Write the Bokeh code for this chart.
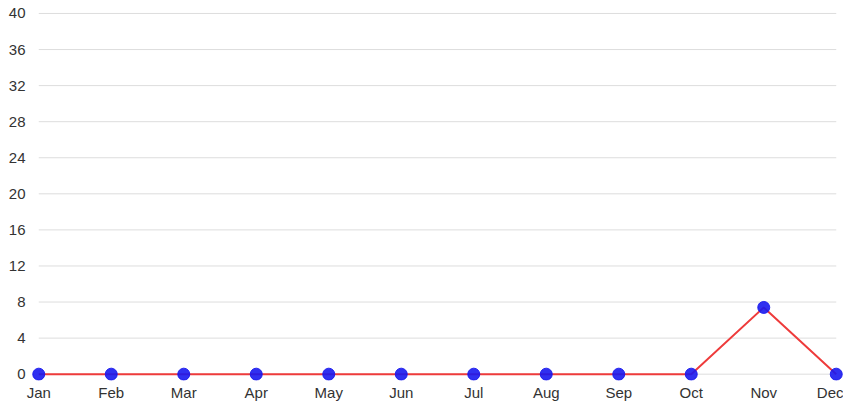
from bokeh.plotting import figure
from bokeh.models import Range1d, FixedTicker
from bokeh.embed import file_html
from bokeh.resources import INLINE

months = ["Jan", "Feb", "Mar", "Apr", "May", "Jun", "Jul", "Aug", "Sep", "Oct", "Nov", "Dec"]
values = [0, 0, 0, 0, 0, 0, 0, 0, 0, 0, 7.4, 0]
y_ticks = [0, 4, 8, 12, 16, 20, 24, 28, 32, 36, 40]

xs = list(range(len(months)))

p = figure(output_backend="svg", toolbar_location=None,
           frame_width=812, frame_height=372,
           x_range=Range1d(-0.1, 11.1), y_range=Range1d(-0.7, 40.55),
           min_border_left=31, min_border_right=0, min_border_top=8, min_border_bottom=0)
p.outline_line_color = None
p.xgrid.visible = False
p.ygrid.visible = False
p.background_fill_color = "white"

# horizontal grid lines spanning Jan..Dec
p.segment(x0=[xs[0]] * len(y_ticks), x1=[xs[-1]] * len(y_ticks), y0=y_ticks, y1=y_ticks,
          line_color="#dddddd", line_width=1)

p.line(xs, values, line_color="#ee3b3b", line_width=2)
p.scatter(xs, values, size=12, fill_color="#1a1aee", line_color="#1a1aee", fill_alpha=0.9, line_alpha=0.9)

for ax in (p.xaxis, p.yaxis):
    ax.axis_line_color = None
    ax.major_tick_line_color = None
    ax.minor_tick_line_color = None
    ax.major_tick_out = 0
    ax.major_tick_in = 0
    ax.minor_tick_out = 0
    ax.major_label_text_font = "Liberation Sans"
    ax.major_label_text_font_size = "15px"
    ax.major_label_text_color = "#333333"

p.xaxis.ticker = FixedTicker(ticks=xs)
p.xaxis.major_label_overrides = {i: m for i, m in enumerate(months)}
p.xaxis.major_label_standoff = 3
p.yaxis.ticker = FixedTicker(ticks=y_ticks)
p.yaxis.major_label_standoff = 6

open("out.html", "w").write(file_html(p, INLINE))
